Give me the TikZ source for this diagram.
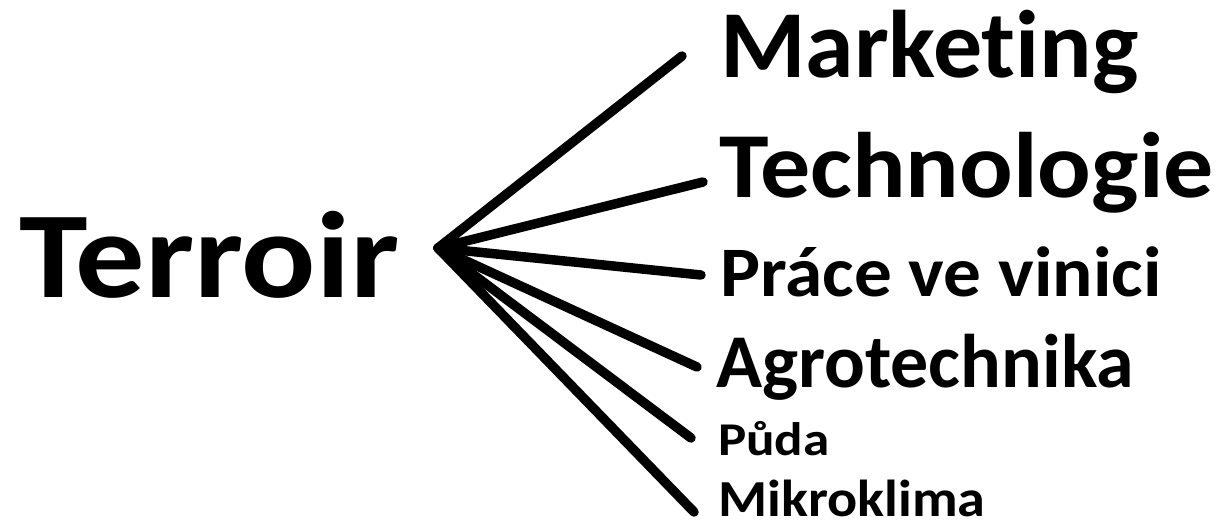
\documentclass[tikz,border=0pt]{standalone}
\usepackage{fontspec}
\usepackage{graphicx}
\setmainfont{Carlito}[RawFeature=-liga]
\begin{document}
\begin{tikzpicture}[x=1pt,y=-1pt,
  lbl/.style={anchor=base west,inner sep=0pt,font=\bfseries\fontsize{#1}{#1}\selectfont},
  spoke/.style={line width=9.5pt,line cap=round,black}]
\useasboundingbox (0,0) rectangle (1218,523);
% central term
\node[lbl=123] (terroir) at (19,297) {\scalebox{1.125}[1]{Terroir}};
% branch labels
\node[lbl=96] (mkt)  at (720,77)  {\scalebox{1.02}[1]{Marketing}};
\node[lbl=93] (tech) at (719,197) {\scalebox{1.075}[1]{Technologie}};
\node[lbl=71] (prace) at (720,296) {\scalebox{1.06}[1]{Práce ve vinici}};
\node[lbl=76] (agro) at (716,387) {Agrotechnika};
\node[lbl=47] (puda) at (718,455) {\scalebox{1.13}[1]{Půda}};
\node[lbl=52] (mikro) at (718,516) {\scalebox{1.08}[1]{Mikroklima}};
% hub and spoke ends
\coordinate (hub) at (438,248);
\coordinate (eMkt) at (682,56);
\coordinate (eTech) at (703,182);
\coordinate (ePrace) at (701,275);
\coordinate (eAgro) at (697,367);
\coordinate (ePuda) at (691,438);
\coordinate (eMikro) at (694,512);
\foreach \e in {eMkt,eTech,ePrace,eAgro,ePuda,eMikro}
  \draw[spoke] (hub) -- (\e);
\end{tikzpicture}
\end{document}
